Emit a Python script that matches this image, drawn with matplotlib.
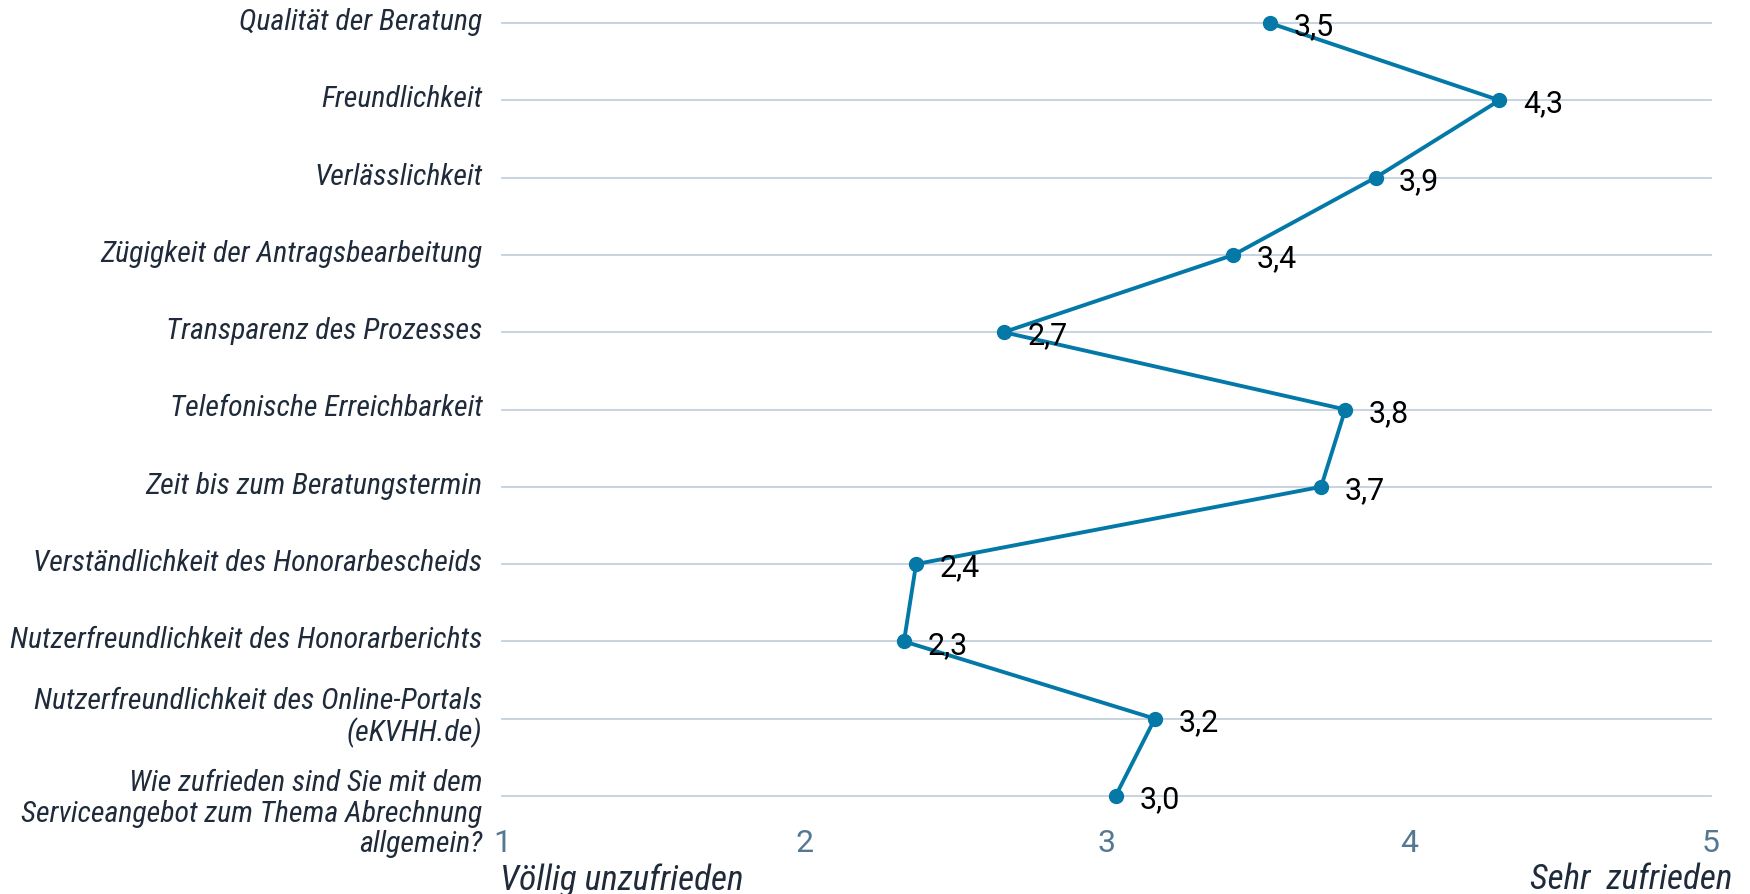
import matplotlib
matplotlib.use("Agg")
import matplotlib.pyplot as plt
from matplotlib import transforms

# Zufriedenheitswerte (Skala 1-5) je Aspekt
kategorien = [
    "Qualität der Beratung",
    "Freundlichkeit",
    "Verlässlichkeit",
    "Zügigkeit der Antragsbearbeitung",
    "Transparenz des Prozesses",
    "Telefonische Erreichbarkeit",
    "Zeit bis zum Beratungstermin",
    "Verständlichkeit des Honorarbescheids",
    "Nutzerfreundlichkeit des Honorarberichts",
    "Nutzerfreundlichkeit des Online-Portals\n(eKVHH.de)",
    "Wie zufrieden sind Sie mit dem\nServiceangebot zum Thema Abrechnung\nallgemein?",
]
werte = [3.54, 4.30, 3.89, 3.42, 2.66, 3.79, 3.71, 2.37, 2.33, 3.16, 3.03]
skala = [1, 2, 3, 4, 5]
pol_links = "Völlig unzufrieden"
pol_rechts = "Sehr  zufrieden"

LINIE = "#0479a8"
GITTER = "#c3d1dd"
TEXT = "#1f2b3a"
ACHSE = "#557891"

plt.rcParams["font.family"] = ["Roboto Condensed", "Roboto", "DejaVu Sans"]

W, H = 1750, 895
fig = plt.figure(figsize=(W / 100, H / 100), dpi=100)
x0, x1 = 502, 1711
y_top, y_bot = 24, 797
ax = fig.add_axes([x0 / W, (H - y_bot) / H, (x1 - x0) / W, (y_bot - y_top) / H])

pos = list(range(len(kategorien)))
ax.set_xlim(1, 5)
ax.set_ylim(len(kategorien) - 1, 0)

for p in pos:
    ax.axhline(p, color=GITTER, lw=1.3, zorder=1, clip_on=False)

ax.plot(werte, pos, color=LINIE, lw=2.8, marker="o", markersize=10,
        zorder=3, clip_on=False)

for w, p in zip(werte, pos):
    ax.annotate(f"{w:.1f}".replace(".", ","), (w, p), xytext=(17, -2),
                textcoords="offset points", va="center", ha="left",
                fontsize=22, color="black", family=["Roboto", "DejaVu Sans"],
                zorder=4)

# Beschriftung der Kategorien links neben dem Gitter
lab_tr = transforms.blended_transform_factory(ax.transAxes, ax.transData)
for i, (k, p) in enumerate(zip(kategorien, pos)):
    dy = -12 if i == len(kategorien) - 1 else 1.5
    off = transforms.offset_copy(lab_tr, fig=fig, x=-14, y=dy, units="points")
    ax.text(0, p, k, transform=off, ha="right", va="center", multialignment="right",
            fontsize=21.5, style="italic", color=TEXT, linespacing=1.12)

ax.set_yticks([])
ax.set_xticks(skala)
ax.set_xticklabels([str(s) for s in skala], fontsize=23, color=ACHSE,
                   family=["Roboto", "DejaVu Sans"])
ax.tick_params(axis="x", length=0, pad=23)
for s in ax.spines.values():
    s.set_visible(False)

ax.text(-0.002, -0.107, pol_links, transform=ax.transAxes, ha="left", va="center",
        fontsize=25.3, style="italic", color=TEXT)
ax.text(1.018, -0.107, pol_rechts, transform=ax.transAxes, ha="right", va="center",
        fontsize=25.3, style="italic", color=TEXT)

fig.savefig("out.png", dpi=100)
